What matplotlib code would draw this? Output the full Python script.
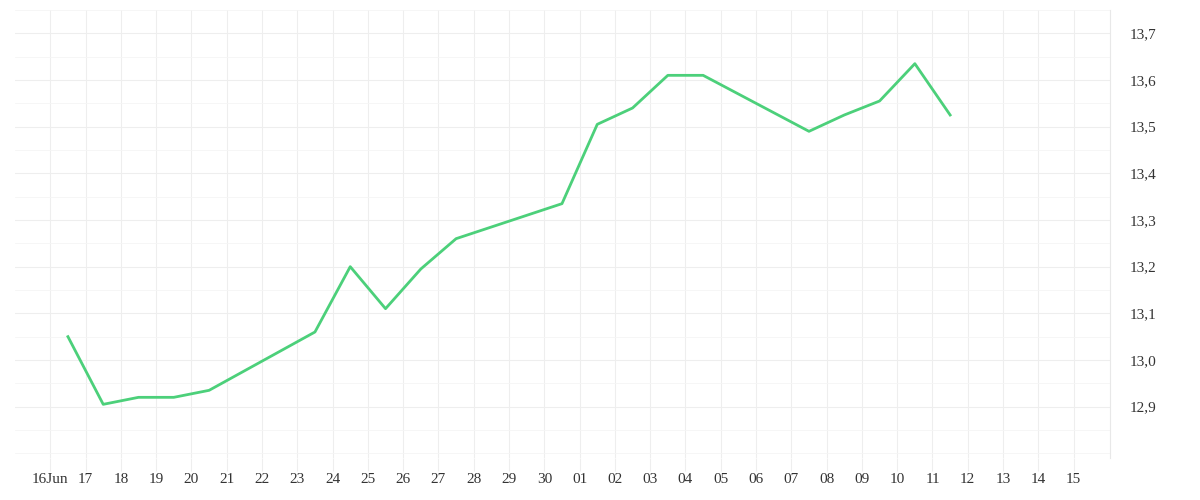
import matplotlib
matplotlib.use("Agg")
import matplotlib.pyplot as plt
import numpy as np

plt.rcParams["font.family"] = ["Liberation Serif", "DejaVu Serif"]

# days counted from 16 Jun (0) ; points sit mid-day
tick_labels = ["16Jun", "17", "18", "19", "20", "21", "22", "23", "24", "25", "26", "27", "28", "29", "30",
               "01", "02", "03", "04", "05", "06", "07", "08", "09", "10", "11", "12", "13", "14", "15"]
point_days = [0.5, 1.5, 2.5, 3.5, 4.5, 7.5, 8.5, 9.5, 10.5, 11.5, 14.5,
              15.5, 16.5, 17.5, 18.5, 21.5, 22.5, 23.5, 24.5, 25.5]
values = [13.05, 12.905, 12.92, 12.92, 12.935, 13.06, 13.20, 13.11, 13.195, 13.26, 13.335,
          13.505, 13.54, 13.61, 13.61, 13.49, 13.525, 13.555, 13.635, 13.525]
y_ticks = [12.9, 13.0, 13.1, 13.2, 13.3, 13.4, 13.5, 13.6, 13.7]

fig = plt.figure(figsize=(12, 5), dpi=100)
ax = fig.add_axes([15 / 1200, 42 / 500, 1095 / 1200, 448 / 500])

ax.plot(point_days, values, color="#4cd07a", linewidth=2)

ax.set_xlim(-1, 30.03)
ax.set_ylim(12.79, 13.75)
ax.set_xticks(range(len(tick_labels)))
ax.set_xticklabels(tick_labels)
ax.set_yticks(y_ticks)
ax.set_yticklabels([f"{v:.1f}".replace(".", ",") for v in y_ticks])
ax.set_yticks(np.arange(12.8, 13.76, 0.05), minor=True)

ax.yaxis.tick_right()
ax.grid(True, which="major", color="#eeeeee", linewidth=0.8)
ax.grid(True, which="minor", axis="y", color="#f5f5f5", linewidth=0.6)
ax.tick_params(axis="y", which="both", length=0, labelsize=11, colors="#333333", pad=14)
ax.tick_params(axis="x", length=9, color="#eeeeee", labelsize=11, colors="#333333", pad=2)

for side in ["top", "left", "bottom"]:
    ax.spines[side].set_visible(False)
ax.spines["right"].set_color("#e8e8e8")
ax.set_axisbelow(True)

fig.savefig("out.png", dpi=100)
